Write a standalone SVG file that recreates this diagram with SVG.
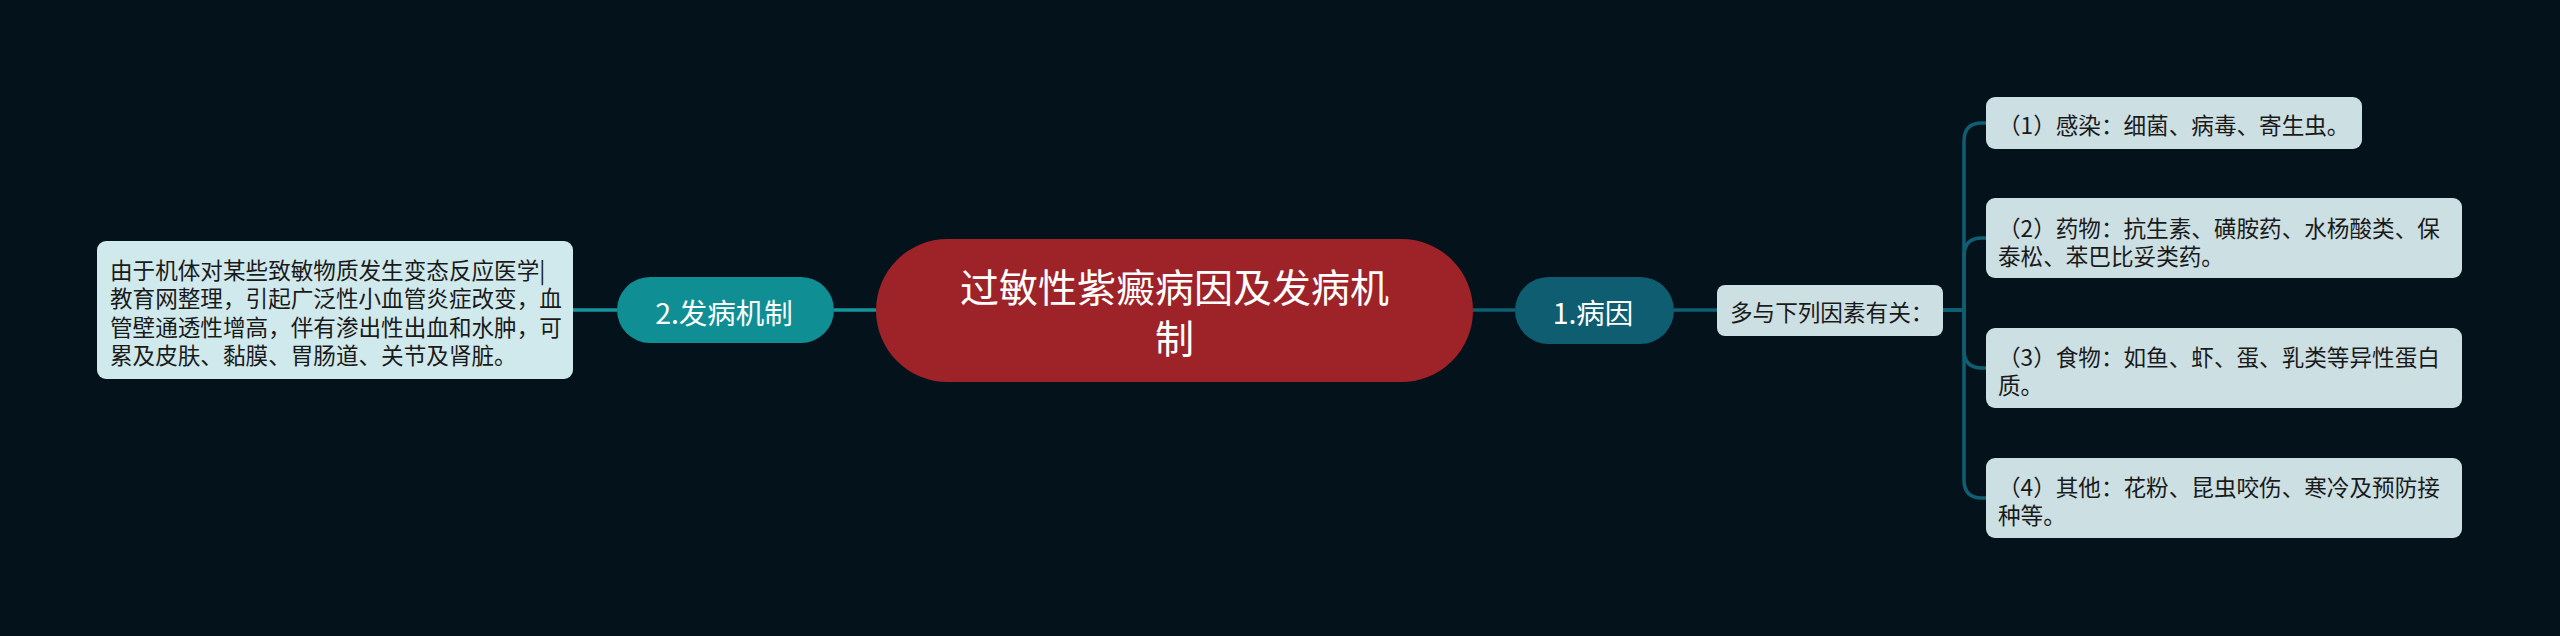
<svg xmlns="http://www.w3.org/2000/svg" width="2560" height="636" viewBox="0 0 2560 636">
<style>
text{font-family:"Noto Sans CJK SC","Noto Sans",sans-serif;dominant-baseline:central}
.t{font-size:22.6px;fill:#1a1a1a}
.w{fill:#ffffff}
.c1{fill:none;stroke:#0f5f73;stroke-width:3.5}
.c2{fill:none;stroke:#17959c;stroke-width:3.5}
.box{fill:#ccdfe3}
</style>
<rect width="2560" height="636" fill="#04121b"/>
<g id="connectors">
<path class="c2" d="M876 310 H834"/>
<path class="c2" d="M617 310 H573"/>
<path class="c1" d="M1473 310 H1515"/>
<path class="c1" d="M1674 310 H1717"/>
<path class="c1" d="M1943 310 H1964 V141 Q1964 123 1982 123 H1987"/>
<path class="c1" d="M1943 310 H1964 V256 Q1964 238 1982 238 H1987"/>
<path class="c1" d="M1943 310 H1964 V350 Q1964 368 1982 368 H1987"/>
<path class="c1" d="M1943 310 H1964 V480 Q1964 498 1982 498 H1987"/>
</g>
<g id="root">
<rect x="876" y="239" width="597" height="143" rx="71.5" fill="#9e2329"/>
<text class="w" x="1174.5" y="285" text-anchor="middle" font-size="39">过敏性紫癜病因及发病机</text>
<text class="w" x="1174.5" y="336" text-anchor="middle" font-size="39">制</text>
</g>
<g id="n-mech">
<rect x="617" y="277" width="217" height="66" rx="33" fill="#0f8f94"/>
<text class="w" x="724" y="311" text-anchor="middle" font-size="28.5">2.发病机制</text>
</g>
<g id="n-mech-detail">
<rect x="97" y="241" width="476" height="138" rx="9" fill="#d0e9ec"/>
<text class="t" x="110" y="269">由于机体对某些致敏物质发生变态反应医学|</text>
<text class="t" x="110" y="297.5">教育网整理，引起广泛性小血管炎症改变，血</text>
<text class="t" x="110" y="326">管壁通透性增高，伴有渗出性出血和水肿，可</text>
<text class="t" x="110" y="354.5">累及皮肤、黏膜、胃肠道、关节及肾脏。</text>
</g>
<g id="n-cause">
<rect x="1515" y="277" width="159" height="67" rx="33.5" fill="#0e5d70"/>
<text class="w" x="1593" y="311" text-anchor="middle" font-size="28.5">1.病因</text>
</g>
<g id="n-factors">
<rect x="1717" y="285" width="226" height="51" rx="8" class="box"/>
<text class="t" x="1730" y="311">多与下列因素有关：</text>
</g>
<g id="n-f1">
<rect x="1986" y="97" width="376" height="52" rx="9" class="box"/>
<text class="t" x="1998" y="124">（1）感染：细菌、病毒、寄生虫。</text>
</g>
<g id="n-f2">
<rect x="1986" y="198" width="476" height="80" rx="9" class="box"/>
<text class="t" x="1998" y="227">（2）药物：抗生素、磺胺药、水杨酸类、保</text>
<text class="t" x="1998" y="255">泰松、苯巴比妥类药。</text>
</g>
<g id="n-f3">
<rect x="1986" y="328" width="476" height="80" rx="9" class="box"/>
<text class="t" x="1998" y="356">（3）食物：如鱼、虾、蛋、乳类等异性蛋白</text>
<text class="t" x="1998" y="384">质。</text>
</g>
<g id="n-f4">
<rect x="1986" y="458" width="476" height="80" rx="9" class="box"/>
<text class="t" x="1998" y="486">（4）其他：花粉、昆虫咬伤、寒冷及预防接</text>
<text class="t" x="1998" y="514">种等。</text>
</g>
</svg>
